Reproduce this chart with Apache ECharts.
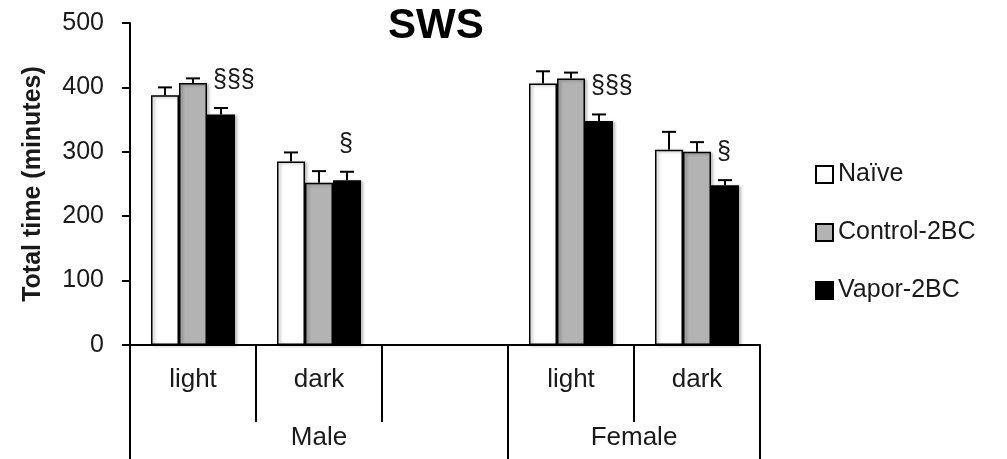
<!DOCTYPE html>
<html>
<head>
<meta charset="utf-8">
<script src="https://cdn.jsdelivr.net/npm/echarts@6/dist/echarts.min.js"></script>
<style>
html,body{margin:0;padding:0;background:#fff;}
#chart{width:1007px;height:459px;}
</style>
</head>
<body>
<div id="chart"></div>
<script>
// ---- data ----
const categories = ['light', 'dark', '', 'light', 'dark'];
const groups = ['Male', 'Female'];
const groupSizes = [3, 2];
const seriesNames = ['Naïve', 'Control-2BC', 'Vapor-2BC'];
const naive = [388, 285, null, 406, 303];
const naiveErr = [12, 14, null, 19, 28];
const control = [407, 252, null, 414, 300];
const controlErr = [7, 18, null, 9, 15];
const vapor = [358, 256, null, 348, 248];
const vaporErr = [10, 13, null, 10, 8];
const vaporSig = ['§§§', '§', '', '§§§', '§'];
const yMin = 0, yMax = 500, yStep = 100;
const title = 'SWS';
const yName = 'Total time (minutes)';

// ---- styling ----
const FONT = 'Liberation Sans';
const BAR_W = 28;
const fills = ['#ffffff', '#b3b3b3', '#000000'];
const TXT = '#1a1a1a';

// group boundaries / centres computed from sizes
const groupBounds = [0];
groupSizes.forEach(s => groupBounds.push(groupBounds[groupBounds.length - 1] + s));
const groupCenters = groups.map((g, i) => (groupBounds[i] + groupBounds[i + 1]) / 2);

const means = [naive, control, vapor];
const errs = [naiveErr, controlErr, vaporErr];
const sigs = [null, null, vaporSig];

const barSeries = seriesNames.map((name, k) => ({
  name: name,
  type: 'bar',
  data: means[k],
  barWidth: BAR_W,
  barGap: '0%',
  itemStyle: {
    color: fills[k],
    borderColor: '#000',
    borderWidth: 1.5,
    shadowColor: 'rgba(0,0,0,0.3)',
    shadowBlur: 3,
    shadowOffsetX: 2,
    shadowOffsetY: 1
  },
  z: 2
}));

const errSeries = seriesNames.map((name, k) => ({
  type: 'custom',
  z: 3,
  silent: true,
  encode: { x: 0, y: 1 },
  data: means[k].map((m, i) => [i, m == null ? NaN : m, errs[k][i] == null ? NaN : errs[k][i]]),
  renderItem: function (params, api) {
    const i = api.value(0), m = api.value(1), e = api.value(2);
    if (isNaN(m)) return null;
    const base = api.coord([i, m]);
    const top = api.coord([i, m + e]);
    const x = base[0] + (k - 1) * BAR_W;
    const children = [
      { type: 'line', shape: { x1: x, y1: base[1], x2: x, y2: top[1] }, style: { stroke: '#000', lineWidth: 2 } },
      { type: 'line', shape: { x1: x - 7, y1: top[1], x2: x + 7, y2: top[1] }, style: { stroke: '#000', lineWidth: 2 } }
    ];
    const s = sigs[k] ? sigs[k][i] : '';
    if (s) {
      children.push({
        type: 'text',
        style: {
          text: s, x: x - 8, y: top[1] - 28,
          align: 'left', verticalAlign: 'middle',
          font: '25px "' + FONT + '"', fill: TXT
        }
      });
    }
    return { type: 'group', children: children };
  }
}));

const chart = echarts.init(document.getElementById('chart'), null, { renderer: 'canvas' });
chart.setOption({
  animation: false,
  backgroundColor: '#fff',
  textStyle: { fontFamily: FONT },
  title: {
    text: title,
    left: 388,
    top: 5,
    padding: 0,
    textStyle: { fontFamily: FONT, fontSize: 42, fontWeight: 'bold', color: '#000' }
  },
  legend: {
    data: seriesNames,
    orient: 'vertical',
    left: 815,
    top: 162,
    padding: 0,
    itemWidth: 17,
    itemHeight: 17,
    itemGap: 33,
    icon: 'rect',
    itemStyle: { borderColor: '#000', borderWidth: 2 },
    textStyle: { fontFamily: FONT, fontSize: 25, color: TXT, lineHeight: 25 }
  },
  grid: { left: 130, right: 247, top: 23, bottom: 114, containLabel: false },
  xAxis: [
    {
      type: 'category',
      data: categories,
      position: 'bottom',
      axisLine: { show: true, lineStyle: { color: '#000', width: 2 } },
      axisTick: { show: true, interval: 0, length: 77, lineStyle: { color: '#000', width: 2 } },
      axisLabel: { interval: 0, fontFamily: FONT, fontSize: 26, color: TXT, margin: 22 },
      splitLine: { show: false }
    },
    {
      type: 'value',
      min: 0,
      max: categories.length,
      position: 'bottom',
      axisLine: { show: false },
      splitLine: { show: false },
      axisTick: { show: true, customValues: groupBounds, length: 114, lineStyle: { color: '#000', width: 2 } },
      axisLabel: {
        show: true,
        customValues: groupCenters,
        formatter: function (v) {
          const idx = groupCenters.findIndex(c => Math.abs(c - v) < 1e-6);
          return idx >= 0 ? groups[idx] : '';
        },
        fontFamily: FONT, fontSize: 26, color: TXT, margin: 80
      }
    }
  ],
  yAxis: {
    type: 'value',
    min: yMin,
    max: yMax,
    interval: yStep,
    name: yName,
    nameLocation: 'middle',
    nameGap: 84,
    nameTextStyle: { fontFamily: FONT, fontSize: 25, fontWeight: 'bold', color: TXT },
    axisLine: { show: true, lineStyle: { color: '#000', width: 2 } },
    axisTick: { show: true, length: 8, lineStyle: { color: '#000', width: 2 } },
    axisLabel: { fontFamily: FONT, fontSize: 25, color: TXT, margin: 26 },
    splitLine: { show: false }
  },
  series: barSeries.concat(errSeries)
});
</script>
</body>
</html>
